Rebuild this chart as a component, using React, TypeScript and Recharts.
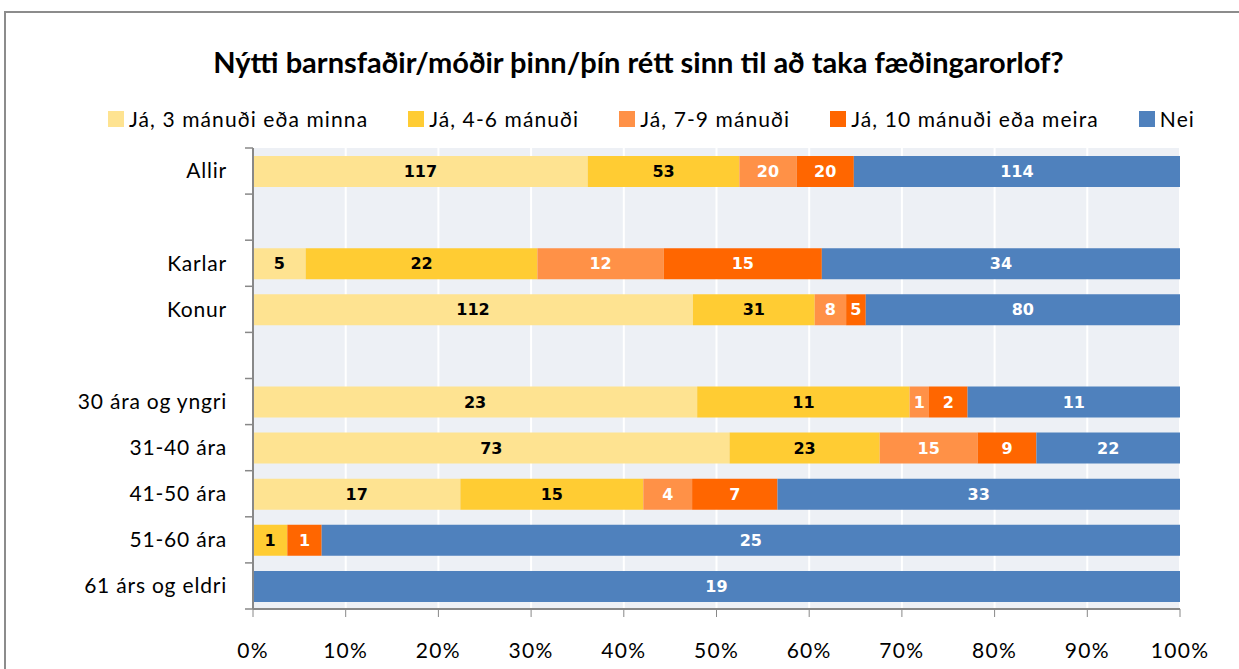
import React from "react";
import { BarChart, Bar, XAxis, YAxis, CartesianGrid, LabelList } from "recharts";

const categories = ["Allir", " ", "Karlar", "Konur", "  ", "30 ára og yngri", "31-40 ára", "41-50 ára", "51-60 ára", "61 árs og eldri"];
const ja3 = [117, 0, 5, 112, 0, 23, 73, 17, 0, 0];
const ja46 = [53, 0, 22, 31, 0, 11, 23, 15, 1, 0];
const ja79 = [20, 0, 12, 8, 0, 1, 15, 4, 0, 0];
const ja10 = [20, 0, 15, 5, 0, 2, 9, 7, 1, 0];
const nei = [114, 0, 34, 80, 0, 11, 22, 33, 25, 19];
const xTicks = [0, 0.1, 0.2, 0.3, 0.4, 0.5, 0.6, 0.7, 0.8, 0.9, 1];

const seriesNames = ["Já, 3 mánuði eða minna", "Já, 4-6 mánuði", "Já, 7-9 mánuði", "Já, 10 mánuði eða meira", "Nei"];
const seriesKeys = ["ja3", "ja46", "ja79", "ja10", "nei"];
const seriesColors = ["#FEE391", "#FFCC33", "#FF9147", "#FF6600", "#4F81BD"];
const labelColors = ["#000", "#000", "#fff", "#fff", "#fff"];

const data = categories.map((name, i) => ({
  name,
  ja3: ja3[i],
  ja46: ja46[i],
  ja79: ja79[i],
  ja10: ja10[i],
  nei: nei[i],
}));

const W = 1239;
const H = 669;
const X_AXIS_H = 60;
const Y_AXIS_W = 253;
const M = { top: 148, right: 59, bottom: 0, left: 0 };
const PLOT_H = H - M.top - X_AXIS_H;
const STEP = PLOT_H / categories.length;
const BAR_SIZE = Math.round(STEP * 0.67);
const FONT = "Lato, 'Open Sans', sans-serif";

const YTick = (props: any) => {
  const { y, payload, index } = props;
  const axisX = Y_AXIS_W;
  return (
    <g>
      {index === 0 && <line x1={axisX - 8} x2={axisX} y1={y - STEP / 2} y2={y - STEP / 2} stroke="#888" strokeWidth={1.5} />}
      <line x1={axisX - 8} x2={axisX} y1={y + STEP / 2} y2={y + STEP / 2} stroke="#888" strokeWidth={1.5} />
      <text x={axisX - 26} y={y} dy="0.35em" textAnchor="end" fontSize={21} letterSpacing={0.8} fontFamily={FONT} fill="#000">
        {payload.value}
      </text>
    </g>
  );
};

export default function App() {
  return (
    <div style={{ position: "absolute", left: 0, top: 0, width: W, height: H, background: "#fff", overflow: "hidden" }}>
      <div style={{ position: "absolute", left: 4, top: 11, width: W + 20, height: H + 20, border: "2px solid #8c8c8c" }} />
      <div
        style={{
          position: "absolute",
          left: 0,
          width: W,
          top: 44,
          textAlign: "center",
          fontFamily: FONT,
          fontWeight: 700,
          fontSize: 29,
          color: "#000",
          paddingLeft: 38,
          boxSizing: "border-box",
        }}
      >
        Nýtti barnsfaðir/móðir þinn/þín rétt sinn til að taka fæðingarorlof?
      </div>
      <div
        style={{
          position: "absolute",
          left: 0,
          width: W,
          top: 106,
          display: "flex",
          justifyContent: "center",
          gap: 40,
          paddingLeft: 64,
          boxSizing: "border-box",
          fontFamily: FONT,
          fontSize: 21,
          letterSpacing: 1.1,
          color: "#000",
        }}
      >
        {seriesNames.map((n, i) => (
          <div key={n} style={{ display: "flex", alignItems: "center" }}>
            <span style={{ display: "inline-block", width: 16, height: 16, background: seriesColors[i], marginRight: 5 }} />
            <span>{n}</span>
          </div>
        ))}
      </div>
      <div style={{ position: "absolute", left: 0, top: 0 }}>
        <BarChart width={W} height={H} data={data} layout="vertical" stackOffset="expand" margin={M} barSize={BAR_SIZE}>
          <CartesianGrid horizontal={false} vertical={true} stroke="#ffffff" strokeWidth={2} fill="#EDF0F5" />
          <XAxis
            type="number"
            domain={[0, 1]}
            ticks={xTicks}
            tickFormatter={(v: number) => `${Math.round(v * 100)}%`}
            axisLine={{ stroke: "#888", strokeWidth: 2 }}
            tickLine={{ stroke: "#888" }}
            tickSize={8}
            tickMargin={26}
            height={X_AXIS_H}
            tick={{ fontSize: 21, fontFamily: FONT, fill: "#000", letterSpacing: 1.3 }}
            interval={0}
          />
          <YAxis
            type="category"
            dataKey="name"
            width={Y_AXIS_W}
            axisLine={{ stroke: "#888", strokeWidth: 2 }}
            tickLine={false}
            tick={<YTick />}
            interval={0}
          />
          {seriesKeys.map((k, i) => (
            <Bar key={k} dataKey={k} name={seriesNames[i]} stackId="a" fill={seriesColors[i]} isAnimationActive={false}>
              <LabelList
                dataKey={k}
                position="center"
                formatter={(v: any) => (v ? v : "")}
                fill={labelColors[i]}
                fontSize={16}
                fontWeight={700}
                fontFamily="'DejaVu Sans', Verdana, sans-serif"
              />
            </Bar>
          ))}
        </BarChart>
      </div>
    </div>
  );
}
